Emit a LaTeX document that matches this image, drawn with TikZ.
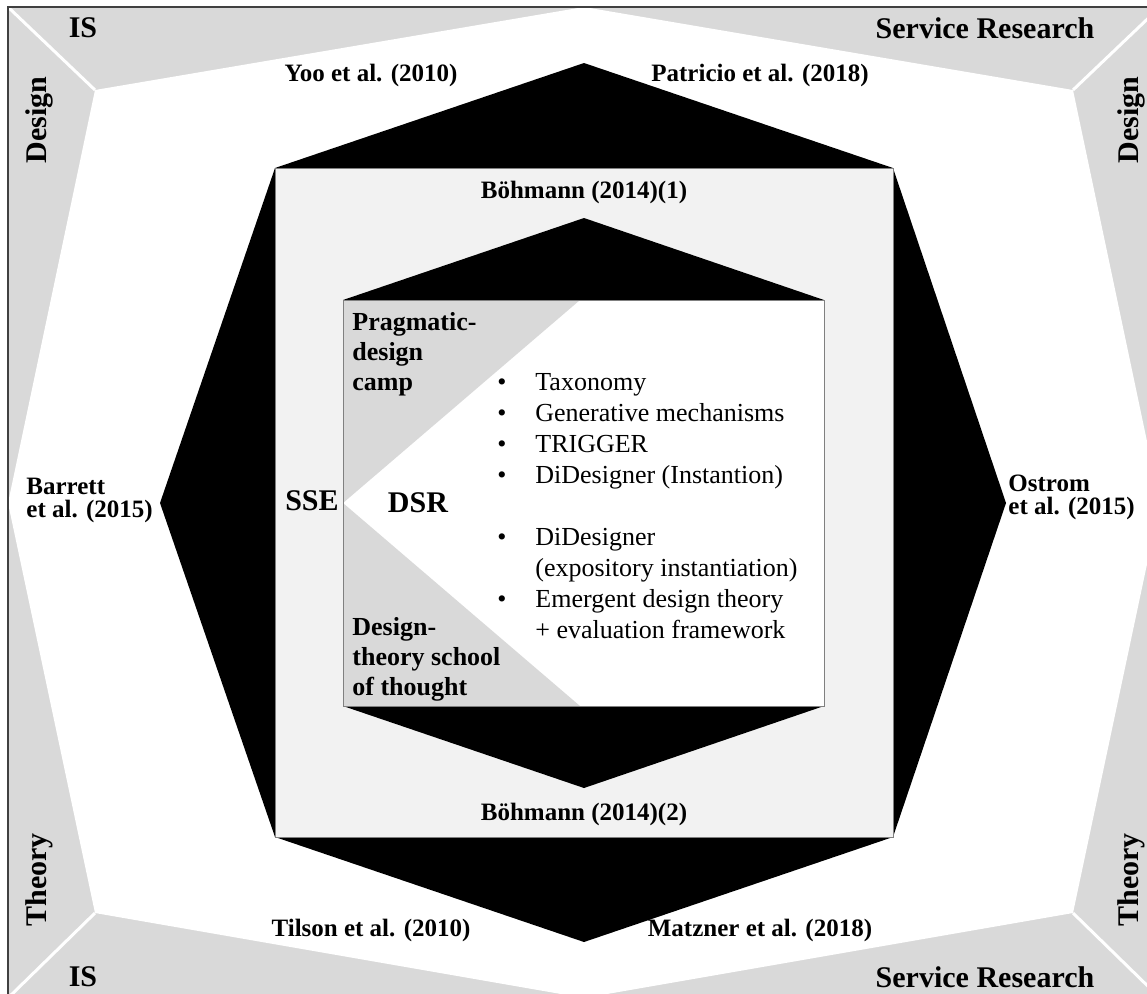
\documentclass[tikz,border=0pt]{standalone}
\usepackage{fontspec}
\setmainfont{Liberation Serif}
\definecolor{bandgray}{HTML}{D9D9D9}
\definecolor{boxgray}{HTML}{F2F2F2}
\definecolor{framegray}{HTML}{404040}
\begin{document}
\begin{tikzpicture}[
    x=0.5pt, y=-0.5pt,
    band/.style={inner sep=0pt, font=\fontsize{15}{15}\selectfont\bfseries},
    ref/.style={inner sep=0pt, align=left, font=\fontsize{12.5}{11.5}\selectfont\bfseries},
    camp/.style={inner sep=0pt, align=left, font=\fontsize{13}{15}\selectfont\bfseries},
    core/.style={inner sep=0pt, font=\fontsize{15}{15}\selectfont\bfseries},
    items/.style={inner sep=0pt, font=\fontsize{13}{15.5}\selectfont}
]
    \useasboundingbox (0,0) rectangle (1147,993);

    % Frame bands
    \fill[bandgray] (8,7) rectangle (1160,998);
    \fill[white] (95,90) -- (584,7) -- (1073,90) -- (1160,503) -- (1073,913)
        -- (584,998) -- (95,913) -- (8,503) -- cycle;
    \draw[white, line width=1.5pt] (8,7) -- (95,90);
    \draw[white, line width=1.5pt] (1160,7) -- (1073,90);
    \draw[white, line width=1.5pt] (8,998) -- (95,913);
    \draw[white, line width=1.5pt] (1160,998) -- (1073,913);
    \draw[framegray, line width=1pt] (8,7) rectangle (1160,998);

    % Octagon and square
    \fill[black] (584,63) -- (893,168) -- (1006,503) -- (893,837) -- (584,942)
        -- (275,837) -- (160,503) -- (275,168) -- cycle;
    \filldraw[fill=boxgray, draw=gray, line width=0.5pt] (275,168) rectangle (893,837);

    % Hexagon and inner box
    \fill[black] (584,218) -- (824,300) -- (824,706) -- (584,788) -- (343,706)
        -- (343,300) -- cycle;
    \fill[white] (343,300) rectangle (824,706);
    \fill[bandgray] (343,300) -- (580,300) -- (343,503) -- cycle;
    \fill[bandgray] (343,503) -- (580,706) -- (343,706) -- cycle;
    \draw[gray, line width=0.5pt] (343,300) rectangle (824,706);

    % Band labels
    \node[band] (isTop) at (83,28) {IS};
    \node[band] (srTop) at (985,28) {Service Research};
    \node[band] (isBot) at (83,977) {IS};
    \node[band] (srBot) at (985,977) {Service Research};
    \node[band, rotate=90] (designL) at (39,120) {Design};
    \node[band, rotate=90] (designR) at (1131,120) {Design};
    \node[band, rotate=90] (theoryL) at (39,880) {Theory};
    \node[band, rotate=90] (theoryR) at (1131,880) {Theory};

    % References
    \node[ref] (yoo) at (371,75) {Yoo et al. (2010)};
    \node[ref] (patricio) at (760,75) {Patricio et al. (2018)};
    \node[ref] (tilson) at (371,930) {Tilson et al. (2010)};
    \node[ref] (matzner) at (760,930) {Matzner et al. (2018)};
    \node[ref, anchor=west] (barrett) at (26,500) {Barrett\\et al. (2015)};
    \node[ref, anchor=west] (ostrom) at (1008,497) {Ostrom\\et al. (2015)};
    \node[ref] (boehmA) at (584,192) {Böhmann (2014)(1)};
    \node[ref] (boehmB) at (584,814) {Böhmann (2014)(2)};

    % Inner box
    \node[camp, anchor=north west] (pragmatic) at (352,312) {Pragmatic-\\design\\camp};
    \node[camp, anchor=north west] (school) at (352,617) {Design-\\theory school\\of thought};
    \node[core] (sse) at (312,501) {SSE};
    \node[core] (dsr) at (418,503) {DSR};
    \node[items, anchor=north west] (list) at (497,368) {%
        \begin{tabular}{@{}p{19pt}@{}l@{}}
        \textbullet & Taxonomy\\
        \textbullet & Generative mechanisms\\
        \textbullet & TRIGGER\\
        \textbullet & DiDesigner (Instantion)\\
        & \\
        \textbullet & DiDesigner\\
        & (expository instantiation)\\
        \textbullet & Emergent design theory\\
        & + evaluation framework
        \end{tabular}};
\end{tikzpicture}
\end{document}
